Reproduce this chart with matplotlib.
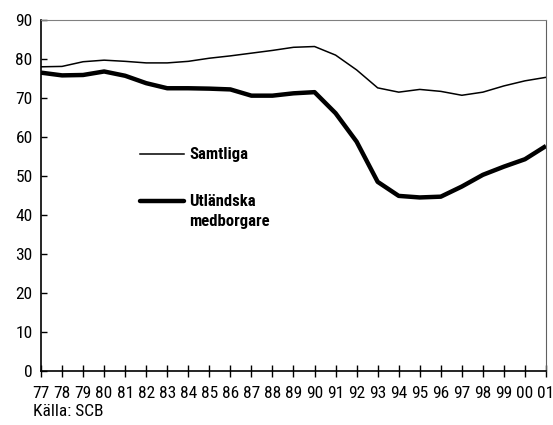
import matplotlib
matplotlib.use("Agg")
import matplotlib.pyplot as plt
from matplotlib.lines import Line2D

plt.rcParams['font.family'] = ['Roboto Condensed', 'Archivo Narrow', 'DejaVu Sans']

years = list(range(1977, 2002))
year_labels = [str(y)[2:] for y in years]
samtliga = [78.0, 78.1, 79.3, 79.7, 79.4, 79.0, 79.0, 79.4, 80.2, 80.8, 81.5, 82.2,
            83.0, 83.2, 81.0, 77.2, 72.6, 71.5, 72.2, 71.7, 70.7, 71.5, 73.1, 74.4, 75.3]
utlandska = [76.5, 75.8, 75.9, 76.8, 75.7, 73.8, 72.5, 72.5, 72.4, 72.2, 70.6, 70.6,
             71.2, 71.5, 66.1, 58.8, 48.5, 44.9, 44.5, 44.7, 47.3, 50.3, 52.4, 54.3, 57.7]
yticks = [0, 10, 20, 30, 40, 50, 60, 70, 80, 90]

fs = 12.5

fig = plt.figure(figsize=(5.53, 4.25), dpi=100)
ax = fig.add_axes([41/553, 54/425, 505/553, 351/425])

ax.plot(years, samtliga, color='black', lw=1.1, solid_joinstyle='round')
ax.plot(years, utlandska, color='black', lw=3.2, solid_joinstyle='round', solid_capstyle='butt')

ax.set_xlim(1977, 2001)
ax.set_ylim(0, 90)
ax.set_xticks(years)
ax.set_xticklabels(year_labels)
ax.set_yticks(yticks)
ax.tick_params(axis='x', direction='inout', length=8, width=1, labelsize=fs, pad=7)
ax.tick_params(axis='y', direction='in', length=4, width=1, labelsize=fs, pad=6)

for s in ['left', 'bottom']:
    ax.spines[s].set_linewidth(1.2)
ax.spines['top'].set_color('#808080')
ax.spines['right'].set_color('#606060')

# legend drawn inside the axes
tr = ax.transAxes
ax.add_line(Line2D([0.196, 0.283], [0.617, 0.617], transform=tr, color='black', lw=1.1))
ax.text(0.293, 0.617, 'Samtliga', transform=tr, va='center', ha='left',
        fontsize=fs - 0.5, fontweight='bold')
ax.add_line(Line2D([0.196, 0.283], [0.484, 0.484], transform=tr, color='black', lw=3.2,
                   solid_capstyle='round'))
ax.text(0.293, 0.484, 'Utländska', transform=tr, va='center', ha='left',
        fontsize=fs - 0.5, fontweight='bold')
ax.text(0.293, 0.427, 'medborgare', transform=tr, va='center', ha='left',
        fontsize=fs - 0.5, fontweight='bold')

fig.text(33/553, 1 - 411/425, 'Källa: SCB', va='center', ha='left', fontsize=fs)

fig.savefig('out.png', dpi=100)
